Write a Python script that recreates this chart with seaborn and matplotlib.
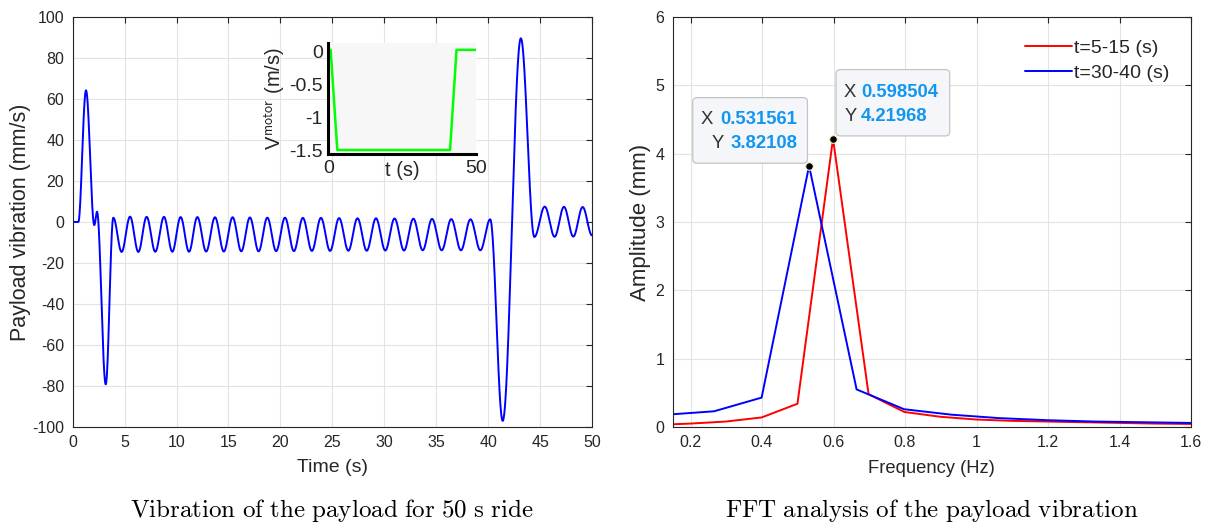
import numpy as np
import pandas as pd
import matplotlib
matplotlib.use("Agg")
import matplotlib.pyplot as plt
from matplotlib.patches import FancyBboxPatch
import seaborn as sns

# ---------------- data ----------------
# payload vibration: extrema of the curve (time s, velocity mm/s)
vib_t = [0, 0.54, 1.28, 2.08, 2.34, 3.18, 3.91, 4.71, 5.52, 6.32, 7.12, 7.95, 8.79,
         9.59, 10.39, 11.2, 12.0, 12.85, 13.7, 14.55, 15.4, 16.23, 17.06, 17.9,
         18.74, 19.59, 20.44, 21.3, 22.16, 23.03, 23.9, 24.78, 25.65, 26.54, 27.42,
         28.31, 29.2, 30.1, 30.99, 31.9, 32.8, 33.7, 34.6, 35.53, 36.45, 37.38, 38.3,
         39.25, 40.2, 41.4, 43.15, 44.45, 45.45, 46.4, 47.3, 48.2, 49.1, 50.0]
vib_v = [0, 0, 64.2, -1.5, 5.0, -79.2, 2.1, -14.6, 2.6, -14.6, 2.5, -14.5, 2.5,
         -14.5, 2.4, -14.5, 2.4, -14.4, 2.3, -14.4, 2.3, -14.3, 2.2, -14.3,
         2.1, -14.2, 2.1, -14.2, 2.0, -14.1, 2.0, -14.1, 1.9, -14.0, 1.8,
         -14.0, 1.8, -13.9, 1.7, -13.9, 1.6, -13.8, 1.5, -13.8, 1.4, -13.8, 1.3,
         -13.8, 1.3, -97.0, 89.6, -7.3, 7.5, -7.2, 7.4, -7.1, 7.3, -6.5]

# motor speed (inset)
motor_t = [0, 0.8, 3.05, 41.3, 43.5, 50]
motor_v = [0.03, 0.03, -1.5, -1.5, 0.03, 0.03]

# FFT spectra
freq_a = [0.0998, 0.1995, 0.299, 0.399, 0.499, 0.598504, 0.698, 0.798, 0.898, 0.9975,
          1.097, 1.197, 1.297, 1.397, 1.496, 1.596, 1.696]
amp_a = [0.03, 0.05, 0.08, 0.14, 0.34, 4.21968, 0.48, 0.22, 0.15, 0.11,
         0.09, 0.08, 0.07, 0.06, 0.05, 0.045, 0.04]
freq_b = [0.1329, 0.2658, 0.3987, 0.531561, 0.6645, 0.7974, 0.9303, 1.063, 1.196,
          1.329, 1.462, 1.595, 1.728]
amp_b = [0.18, 0.23, 0.43, 3.82108, 0.55, 0.26, 0.18, 0.13, 0.10, 0.08, 0.07, 0.06, 0.05]
label_a = "t=5-15 (s)"
label_b = "t=30-40 (s)"

caption_left = "Vibration of the payload for 50 s ride"
caption_right = "FFT analysis of the payload vibration"


def smooth_through_extrema(ts, vs, n=60):
    """Draw the curve through the read extrema with a smooth (half-cosine) join."""
    xs, ys = [], []
    for i in range(len(ts) - 1):
        s = np.linspace(0, 1, n, endpoint=False)
        w = (1 - np.cos(np.pi * s)) / 2
        xs.append(ts[i] + (ts[i + 1] - ts[i]) * s)
        ys.append(vs[i] + (vs[i + 1] - vs[i]) * w)
    xs.append([ts[-1]])
    ys.append([vs[-1]])
    return np.concatenate(xs), np.concatenate(ys)


assert len(vib_t) == len(vib_v)
cx, cy = smooth_through_extrema(vib_t, vib_v)
vib_df = pd.DataFrame({"t": cx, "v": cy})
motor_df = pd.DataFrame({"t": motor_t, "v": motor_v})
fa = pd.DataFrame({"f": freq_a, "a": amp_a})
fb = pd.DataFrame({"f": freq_b, "a": amp_b})

# ---------------- style ----------------
sns.set_style("white")
plt.rcParams["font.family"] = ["Liberation Sans", "DejaVu Sans"]
plt.rcParams["mathtext.fontset"] = "cm"
plt.rcParams["axes.unicode_minus"] = False
TXT = "#262626"
GRID = "#e3e3e3"

fig = plt.figure(figsize=(12.13, 5.25), dpi=100)
W, H = 1213, 525


def ax_rect(x0, y0, x1, y1):
    return [x0 / W, 1 - y1 / H, (x1 - x0) / W, (y1 - y0) / H]


def style_axes(ax):
    for sp in ax.spines.values():
        sp.set_visible(True)
        sp.set_color(TXT)
        sp.set_linewidth(0.8)
    ax.tick_params(direction="in", which="both", top=True, right=True,
                   length=4, width=0.8, color=TXT, labelsize=11.5, labelcolor=TXT,
                   pad=6)
    ax.grid(True, color=GRID, linewidth=0.8)
    ax.set_axisbelow(True)


# ---------------- left: time series ----------------
ax1 = fig.add_axes(ax_rect(72.7, 17, 592, 427))
sns.lineplot(data=vib_df, x="t", y="v", ax=ax1, color=(0, 0, 1), linewidth=1.4,
             sort=False, estimator=None)
ax1.set_xlim(0, 50)
ax1.set_ylim(-100, 100)
ax1.set_xticks(np.arange(0, 51, 5))
ax1.set_yticks(np.arange(-100, 101, 20))
style_axes(ax1)
ax1.set_xlabel("Time (s)", fontsize=14, color=TXT, labelpad=6)
ax1.set_ylabel("Payload vibration (mm/s)", fontsize=15.5, color=TXT, labelpad=1)

# inset
axi = fig.add_axes(ax_rect(328.3, 43.3, 475.7, 154.3))
axi.set_facecolor("#f7f7f7")
sns.lineplot(data=motor_df, x="t", y="v", ax=axi, color=(0, 1, 0), linewidth=1.8,
             sort=False, estimator=None)
axi.set_xlim(0, 50)
axi.set_ylim(-1.565, 0.13)
axi.set_xticks([0, 50])
axi.set_yticks([0, -0.5, -1, -1.5])
axi.set_yticklabels(["0", "-0.5", "-1", "-1.5"])
for s in ["top", "right"]:
    axi.spines[s].set_visible(False)
for s in ["left", "bottom"]:
    axi.spines[s].set_visible(True)
    axi.spines[s].set_color("black")
    axi.spines[s].set_linewidth(2.2)
axi.tick_params(length=0, labelsize=14, labelcolor=TXT, pad=4)
axi.set_xlabel("t (s)", fontsize=14.5, color=TXT)
axi.xaxis.set_label_coords(0.5, -0.06)
axi.set_ylabel(r"V$^{\mathsf{motor}}$ (m/s)", fontsize=14.5, color=TXT, labelpad=1)

# ---------------- right: FFT ----------------
ax2 = fig.add_axes(ax_rect(672.7, 17, 1191, 427))
sns.lineplot(data=fa, x="f", y="a", ax=ax2, color=(1, 0, 0), linewidth=1.4,
             label=label_a, sort=False, estimator=None)
sns.lineplot(data=fb, x="f", y="a", ax=ax2, color=(0, 0, 1), linewidth=1.4,
             label=label_b, sort=False, estimator=None)
ax2.set_xlim(0.15, 1.6)
ax2.set_ylim(0, 6)
ax2.set_xticks(np.round(np.arange(0.2, 1.61, 0.2), 1))
ax2.set_xticklabels(["0.2", "0.4", "0.6", "0.8", "1", "1.2", "1.4", "1.6"])
ax2.set_yticks(range(0, 7))
style_axes(ax2)
ax2.set_xlabel("Frequency (Hz)", fontsize=13.2, color=TXT, labelpad=7)
ax2.set_ylabel("Amplitude (mm)", fontsize=16, color=TXT, labelpad=3)
leg = ax2.legend(loc="upper right", bbox_to_anchor=(0.958, 0.946), frameon=False,
                 fontsize=14, handlelength=2.4, handletextpad=0.1, labelspacing=0.4,
                 borderaxespad=0, borderpad=0)
for t in leg.get_texts():
    t.set_color(TXT)

# data tips
peak_a = (freq_a[amp_a.index(max(amp_a))], max(amp_a))
peak_b = (freq_b[amp_b.index(max(amp_b))], max(amp_b))
for fx, ay in (peak_a, peak_b):
    ax2.plot([fx], [ay], marker="o", markersize=5.5, color="black",
             markeredgecolor="#f2efc0", markeredgewidth=0.8, zorder=6)

TIPBLUE = "#1296f0"
TIPFS = 13.3


def tip_box(x0, y0, x1, y1):
    bx = FancyBboxPatch((x0, y0), x1 - x0, y1 - y0,
                        boxstyle="round,pad=0,rounding_size=0.012",
                        mutation_aspect=(6 / 410) / (1.45 / 518),
                        facecolor="#f4f6f9", edgecolor="#c4c4c4", linewidth=0.9,
                        zorder=7, transform=ax2.transData)
    ax2.add_patch(bx)


# tip for blue peak (left)
tip_box(0.206, 3.86, 0.527, 4.82)
ax2.text(0.264, 4.50, "X", ha="right", va="center", fontsize=TIPFS, color="#303030", zorder=8)
ax2.text(0.499, 4.50, f"{peak_b[0]:.6f}", ha="right", va="center", fontsize=TIPFS,
         color=TIPBLUE, fontweight="bold", zorder=8)
ax2.text(0.292, 4.15, "Y", ha="right", va="center", fontsize=TIPFS, color="#303030", zorder=8)
ax2.text(0.499, 4.15, f"{peak_b[1]:.5f}", ha="right", va="center", fontsize=TIPFS,
         color=TIPBLUE, fontweight="bold", zorder=8)

# tip for red peak (right)
tip_box(0.607, 4.26, 0.925, 5.23)
ax2.text(0.628, 4.90, "X", ha="left", va="center", fontsize=TIPFS, color="#303030", zorder=8)
ax2.text(0.677, 4.90, f"{peak_a[0]:.6f}", ha="left", va="center", fontsize=TIPFS,
         color=TIPBLUE, fontweight="bold", zorder=8)
ax2.text(0.630, 4.54, "Y", ha="left", va="center", fontsize=TIPFS, color="#303030", zorder=8)
ax2.text(0.677, 4.54, f"{peak_a[1]:.5f}", ha="left", va="center", fontsize=TIPFS,
         color=TIPBLUE, fontweight="bold", zorder=8)

# ---------------- captions ----------------
def cm_text(s):
    return r"$\mathrm{" + s.replace(" ", r"\ ") + "}$"


fig.text((72.7 + 592) / 2 / W, 1 - 511 / H, cm_text(caption_left), ha="center",
         va="center", fontsize=18, color="black")
fig.text((672.7 + 1191) / 2 / W, 1 - 511 / H, cm_text(caption_right), ha="center",
         va="center", fontsize=18, color="black")

fig.savefig("out.png", dpi=100)
